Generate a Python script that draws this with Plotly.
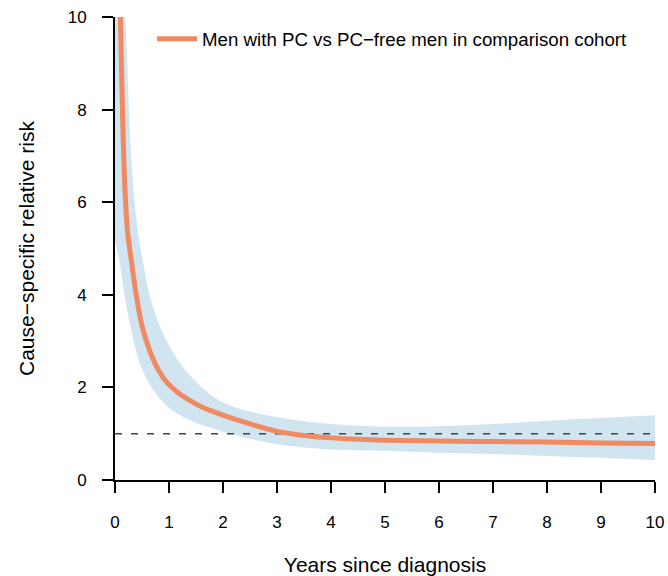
import plotly.graph_objects as go

# Estimated point estimate (relative risk) over years since diagnosis
rr_x = [0.0, 0.1, 0.17, 0.23, 0.31, 0.40, 0.52, 0.74, 0.9, 1.11, 1.35, 1.64, 2.0, 2.5, 3.0, 3.5, 4.0, 4.5, 5.0, 6.0, 7.0, 8.0, 9.0, 10.0]
rr_y = [15.0, 10.0, 6.7, 5.4, 4.68, 3.95, 3.24, 2.52, 2.2, 1.94, 1.74, 1.56, 1.40, 1.21, 1.05, 0.96, 0.91, 0.88, 0.86, 0.84, 0.83, 0.82, 0.80, 0.79]

# Upper confidence limit
up_x = [0.0, 0.19, 0.31, 0.42, 0.52, 0.65, 0.86, 1.05, 1.25, 1.5, 1.75, 2.0, 2.25, 2.5, 3.0, 3.5, 4.0, 4.5, 5.0, 6.0, 7.0, 8.0, 9.0, 10.0]
up_y = [14.0, 10.0, 6.8, 5.4, 4.7, 3.95, 3.24, 2.8, 2.45, 2.12, 1.86, 1.68, 1.56, 1.48, 1.36, 1.27, 1.21, 1.17, 1.15, 1.16, 1.21, 1.28, 1.34, 1.40]

# Lower confidence limit
lo_x = [0.0, 0.09, 0.18, 0.30, 0.46, 0.71, 1.04, 1.25, 1.54, 1.95, 2.5, 3.0, 3.5, 4.0, 5.0, 6.0, 7.0, 8.0, 9.0, 10.0]
lo_y = [5.15, 4.68, 3.95, 3.24, 2.52, 1.94, 1.52, 1.37, 1.22, 1.06, 0.89, 0.77, 0.70, 0.66, 0.63, 0.59, 0.56, 0.52, 0.48, 0.43]

ref_x = [0, 10]
ref_y = [1, 1]

x_ticks = [0, 1, 2, 3, 4, 5, 6, 7, 8, 9, 10]
y_ticks = [0, 2, 4, 6, 8, 10]

legend_label = "Men with PC vs PC\u2212free men in comparison cohort"

BAND = "#D1E5F0"
LINE = "#EF8A62"
FONT = "Liberation Sans, Arial, Helvetica, sans-serif"

fig = go.Figure()

fig.add_trace(go.Scatter(
    x=up_x, y=up_y, mode="lines", line=dict(width=0, color=BAND, shape="spline", smoothing=1.0),
    showlegend=False, hoverinfo="skip"))
fig.add_trace(go.Scatter(
    x=lo_x, y=lo_y, mode="lines", line=dict(width=0, color=BAND, shape="spline", smoothing=1.0),
    fill="tonexty", fillcolor=BAND, showlegend=False, hoverinfo="skip"))

fig.add_trace(go.Scatter(
    x=ref_x, y=ref_y, mode="lines", line=dict(color="#444444", width=1.6, dash="7px,9px"),
    showlegend=False, hoverinfo="skip"))

fig.add_trace(go.Scatter(
    x=rr_x, y=rr_y, mode="lines", name=legend_label,
    line=dict(color=LINE, width=5, shape="spline", smoothing=1.0)))

axis_common = dict(
    showgrid=False, zeroline=False, showline=True, linecolor="black", linewidth=2,
    ticks="outside", ticklen=11, tickwidth=2, tickcolor="black",
    tickfont=dict(family=FONT, size=17, color="black"),
    layer="below traces", mirror=False, automargin=False,
    ticklabeloverflow="allow",
)

fig.update_layout(
    width=668, height=576,
    margin=dict(l=115, r=13, t=17, b=96),
    paper_bgcolor="white", plot_bgcolor="white",
    font=dict(family=FONT, color="black"),
    xaxis=dict(range=[0, 10], tickvals=x_ticks, ticklabelstandoff=15,
               title=dict(text="Years since diagnosis", font=dict(family=FONT, size=21), standoff=26),
               **axis_common),
    yaxis=dict(range=[0, 10], tickvals=y_ticks, ticklabelstandoff=12,
               title=dict(text="Cause\u2212specific relative risk", font=dict(family=FONT, size=21), standoff=27),
               **axis_common),
    legend=dict(x=(152 - 115) / 540, y=0.9525, xanchor="left", yanchor="middle",
                itemwidth=40,
                font=dict(family=FONT, size=18.7, color="black"),
                bgcolor="rgba(0,0,0,0)", borderwidth=0),
    showlegend=True,
)

# remove the default page margin so the figure fills the window exactly
fig.write_html("out.html", config={"displayModeBar": False},
               post_script="document.body.style.margin='0';")
